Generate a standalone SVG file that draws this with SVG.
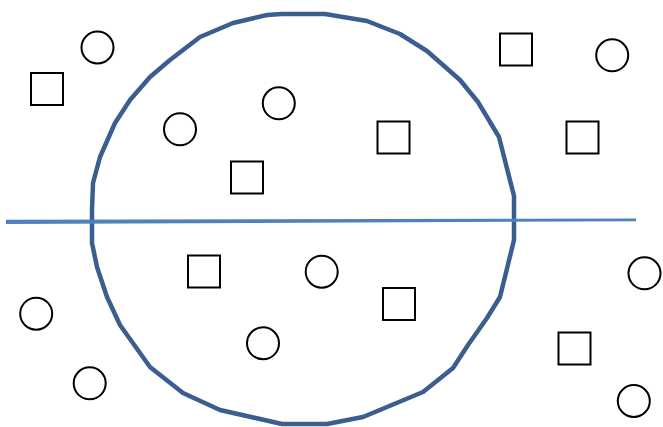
<svg xmlns="http://www.w3.org/2000/svg" width="663" height="427" viewBox="0 0 663 427">
<style>
.sq{fill:none;stroke:#000;stroke-width:2}
.ci{fill:none;stroke:#000;stroke-width:2}
.big{fill:none;stroke:#3A5F8F;stroke-width:4.5;stroke-linejoin:round}
.hl{fill:#4F81BD}
</style>
<rect width="663" height="427" fill="#fff"/>
<g id="boundary">
<path class="big" d="M282,14 L325,14 L367,21 L400,34 L427,51 L460,80 L478,102 L499,137 L514,196 L514,240 L500,297 L487,318 L468,345 L453,368 L423,392 L363,417 L327,424 L282,424 L220,410 L183,393 L150,367 L120,325 L107,297 L97,267 L92,243 L92,210 L93,183 L100,157 L115,123 L130,100 L150,77 L170,60 L200,37 L233,23 L267,15 Z"/>
</g>
<g id="divider">
<polygon class="hl" points="6,219.8 636,218.5 636,221.2 6,224"/>
</g>
<g id="square1"><rect class="sq" x="31" y="73" width="32" height="32"/></g>
<g id="circle1"><circle class="ci" cx="97.5" cy="47.5" r="16"/></g>
<g id="circle2"><circle class="ci" cx="180" cy="129.3" r="16"/></g>
<g id="circle3"><circle class="ci" cx="278.8" cy="103.3" r="16"/></g>
<g id="square2"><rect class="sq" x="377.5" y="121.5" width="32" height="32"/></g>
<g id="square3"><rect class="sq" x="231" y="161.5" width="32" height="32"/></g>
<g id="square4"><rect class="sq" x="500" y="33.5" width="32" height="32"/></g>
<g id="circle4"><circle class="ci" cx="612.2" cy="55.3" r="16"/></g>
<g id="square5"><rect class="sq" x="566.5" y="121.5" width="32" height="32"/></g>
<g id="square6"><rect class="sq" x="188" y="255.5" width="32" height="32"/></g>
<g id="circle5"><circle class="ci" cx="321.7" cy="271.7" r="16"/></g>
<g id="square7"><rect class="sq" x="383" y="288" width="32" height="32"/></g>
<g id="circle6"><circle class="ci" cx="263" cy="343.3" r="16"/></g>
<g id="circle7"><circle class="ci" cx="36.2" cy="313.7" r="16"/></g>
<g id="circle8"><circle class="ci" cx="89.7" cy="383.3" r="16"/></g>
<g id="circle9"><circle class="ci" cx="644.5" cy="273.3" r="16"/></g>
<g id="square8"><rect class="sq" x="558.5" y="332.5" width="32" height="32"/></g>
<g id="circle10"><circle class="ci" cx="633.8" cy="401" r="16"/></g>
</svg>
